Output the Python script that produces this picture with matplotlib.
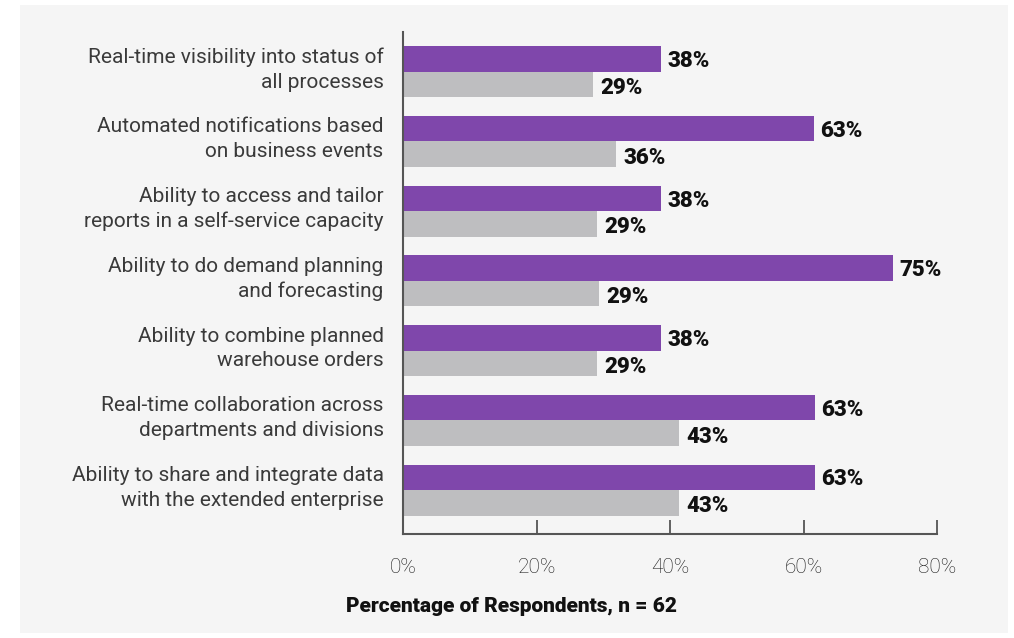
import matplotlib.pyplot as plt
from matplotlib.patches import Rectangle
import numpy as np

plt.rcParams['font.family'] = ['Roboto', 'DejaVu Sans']

categories = ['Real-time visibility into status of\nall processes',
              'Automated notifications based\non business events',
              'Ability to access and tailor\nreports in a self-service capacity',
              'Ability to do demand planning\nand forecasting',
              'Ability to combine planned\nwarehouse orders',
              'Real-time collaboration across\ndepartments and divisions',
              'Ability to share and integrate data\nwith the extended enterprise']
# bar lengths as drawn against the axis, and the printed values
purple_len = [38.6, 61.5, 38.7, 73.4, 38.7, 61.7, 61.7]
gray_len = [28.5, 31.9, 29.0, 29.4, 29.0, 41.3, 41.3]
purple_lbl = ['38%', '63%', '38%', '75%', '38%', '63%', '63%']
gray_lbl = ['29%', '36%', '29%', '29%', '29%', '43%', '43%']
xticks = [0, 20, 40, 60, 80]

purple = '#7f47ab'
gray = '#bebec0'
bg = '#f5f5f5'

fig = plt.figure(figsize=(10.14, 6.38), dpi=100)
fig.patch.set_facecolor('white')
fig.add_artist(Rectangle((20 / 1014, 5 / 638), 988 / 1014, 628 / 638,
                         transform=fig.transFigure, facecolor=bg, edgecolor='none', zorder=-10))

ax = fig.add_axes([403 / 1014, 104 / 638, 534 / 1014, 502 / 638])
ax.set_facecolor(bg)
ax.patch.set_alpha(0)

y = np.arange(len(categories))
h = 0.366
ax.barh(y - h / 2, purple_len, height=h, color=purple)
ax.barh(y + h / 2, gray_len, height=h, color=gray)

for i in range(len(categories)):
    ax.text(purple_len[i] + 1.0, y[i] - h / 2 + 0.03, purple_lbl[i], va='center', ha='left',
            fontsize=16, fontweight='heavy', color='#111111')
    ax.text(gray_len[i] + 1.1, y[i] + h / 2 + 0.05, gray_lbl[i], va='center', ha='left',
            fontsize=16, fontweight='heavy', color='#111111')

ax.set_xlim(0, 80)
ax.set_ylim(6 + 0.63, -0.57)
ax.set_yticks(y - 0.1)
ax.set_yticklabels(categories, fontsize=15, fontweight='normal', color='#3a3a3a',
                   linespacing=1.38)
ax.tick_params(axis='y', length=0, pad=14)
ax.set_xticks(xticks)
ax.set_xticklabels([f'{t}%' for t in xticks], fontsize=15, fontweight='light', color='#1a1a1a')
ax.tick_params(axis='x', direction='in', length=10, width=1.3, color='#555555', pad=17)

for s in ['top', 'right']:
    ax.spines[s].set_visible(False)
for s in ['left', 'bottom']:
    ax.spines[s].set_color('#555555')
    ax.spines[s].set_linewidth(1.5)

fig.text(511 / 1014, 1 - 607 / 638, 'Percentage of Respondents, n = 62', ha='center', va='center',
         fontsize=15, fontweight='heavy', color='#111111')

fig.savefig('out.png', dpi=100, facecolor=fig.get_facecolor())
